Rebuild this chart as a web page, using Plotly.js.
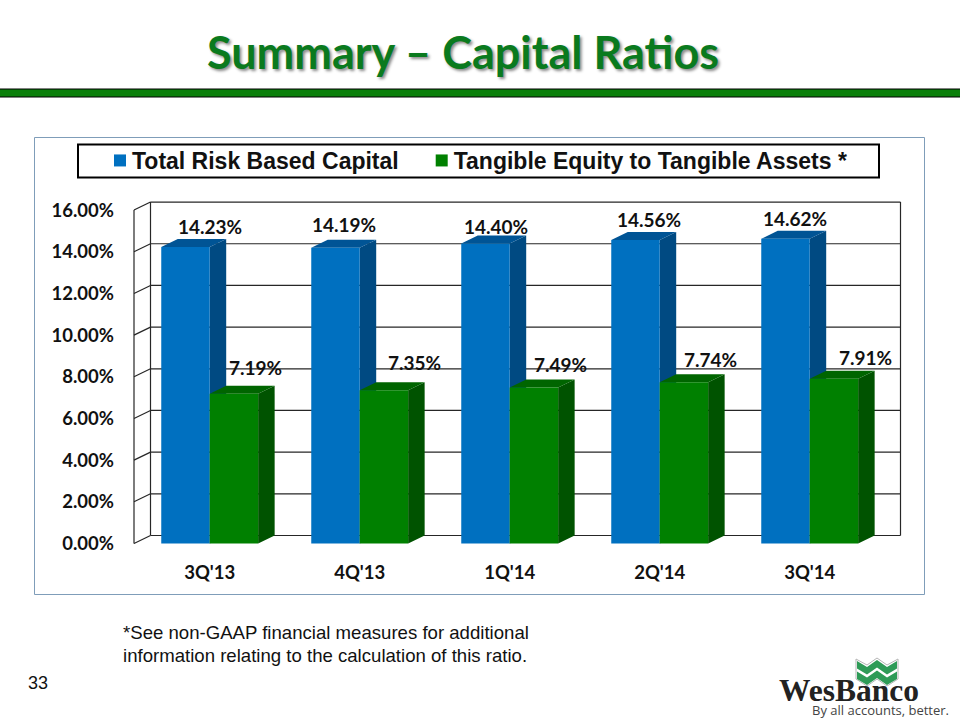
<!DOCTYPE html>
<html><head><meta charset="utf-8">
<script src="https://cdn.plot.ly/plotly-3.0.0.min.js"></script>
<style>html,body{margin:0;padding:0;background:#fff}</style></head>
<body><div id="chart" style="width:960px;height:720px"></div>
<script>
const categories = ["3Q'13","4Q'13","1Q'14","2Q'14","3Q'14"];
const totalRiskBased = [14.23,14.19,14.40,14.56,14.62];
const tangibleEquity = [7.19,7.35,7.49,7.74,7.91];
const yTicks = [0,2,4,6,8,10,12,14,16];
const blueLabelShiftX = [25,9,11,13.5,9.5];
const blueLabelShiftY = [20,22.8,17.4,21,20.8];
const greenLabelShiftX = [21.3,30.3,26.3,26.3,31.3];
const greenLabelShiftY = [25.7,28.3,23.4,23.2,20.7];

const L=130,R=905,T=198,B=548,W=775,H=350;
const pxX=p=>(p-L)/W, pxY=p=>(B-p)/H;
const barW=0.323, depthX=0.11, depthY=0.384;
const xMin=(L-209.7)/150, xMax=(R-209.7)/150, yMin=(543.5-B)/20.84, yMax=(543.5-T)/20.84;
const wallL=(134-209.7)/150, backR=(900.5-209.7)/150;
const BLUE='#0070C0',BLUE_S='#004A82',BLUE_T='#005495',GREEN='#008000',GREEN_S='#005300',GREEN_T='#006500';
const LINE='#262626';

const shapes=[];
const dataLine=(x0,y0,x1,y1)=>shapes.push({type:'line',xref:'x',yref:'y',x0,y0,x1,y1,layer:'below',line:{color:LINE,width:1.2}});
const poly=(pts,color)=>shapes.push({type:'path',xref:'x',yref:'y',layer:'below',line:{width:0},fillcolor:color,
  path:'M'+pts.map(p=>p[0]+','+p[1]).join('L')+'Z'});
yTicks.forEach(v=>{
  dataLine(wallL,v,wallL+depthX,v+depthY);
  dataLine(wallL+depthX,v+depthY,backR,v+depthY);
});
dataLine(wallL,0,wallL,16);
dataLine(wallL+depthX,depthY,wallL+depthX,16+depthY);
dataLine(backR,depthY,backR,16+depthY);
const faces=(vals,off,sideC,topC)=>vals.forEach((v,i)=>{
  const x0=i+off,x1=x0+barW;
  poly([[x1,0],[x1+depthX,depthY],[x1+depthX,v+depthY],[x1,v]],sideC);
  poly([[x0,v],[x1,v],[x1+depthX,v+depthY],[x0+depthX,v+depthY]],topC);
});
faces(totalRiskBased,-barW,BLUE_S,BLUE_T);
faces(tangibleEquity,0,GREEN_S,GREEN_T);

const paperShape=(o)=>shapes.push(Object.assign({xref:'paper',yref:'paper',layer:'below'},o));
const pxPath=pts=>'M'+pts.map(p=>pxX(p[0])+','+pxY(p[1])).join('L')+'Z';
paperShape({type:'rect',x0:pxX(34.5),x1:pxX(924.5),y0:pxY(137.5),y1:pxY(594.5),line:{color:'#7F9DB9',width:1},fillcolor:'rgba(0,0,0,0)'});
paperShape({type:'rect',x0:pxX(78),x1:pxX(879),y0:pxY(144.5),y1:pxY(177.5),line:{color:'#000',width:2},fillcolor:'#fff'});
paperShape({type:'rect',x0:pxX(-2),x1:pxX(962),y0:pxY(89),y1:pxY(97),line:{color:'#000',width:1},fillcolor:'#0A7F0A'});
const band=dy=>{
  const top=[[857,661],[867,667],[877,660],[887,667],[897,661]].map(p=>[p[0],p[1]+dy]);
  const bot=top.slice().reverse().map(p=>[p[0],p[1]+7.5]);
  return pxPath(top.concat(bot));
};
paperShape({type:'path',layer:'above',path:pxPath([[856,659],[867,665],[877,658],[887,665],[898,659],[898,679],[887,686],[877,679],[867,686],[856,679]]),line:{color:'#b5b5b5',width:1},fillcolor:'#fff'});
paperShape({type:'path',layer:'above',path:band(0),line:{width:0},fillcolor:'#2E9B57'});
paperShape({type:'path',layer:'above',path:band(10.5),line:{width:0},fillcolor:'#2E9B57'});

const fmt=v=>v.toFixed(2)+'%';
const lblFont={family:'Lato',size:19,color:'#111'};
const labels=(vals,off,sx,sy)=>vals.map((v,i)=>({xref:'x',yref:'y',x:i+off,y:v,text:'<b>'+fmt(v)+'</b>',showarrow:false,xshift:sx[i],yshift:sy[i],font:lblFont,xanchor:'center',yanchor:'middle'}));
const paperText=(px,py,text,font,xanchor)=>({xref:'paper',yref:'paper',x:pxX(px),y:pxY(py),text,showarrow:false,font,xanchor:xanchor||'left',yanchor:'middle',align:'left'});
const ARIAL='Liberation Sans';
const annotations=[
 ...labels(totalRiskBased,-barW/2,blueLabelShiftX,blueLabelShiftY),
 ...labels(tangibleEquity,barW/2,greenLabelShiftX,greenLabelShiftY),
 paperText(121,632,'*See non-GAAP financial measures for additional',{family:ARIAL,size:18.6,color:'#111'}),
 paperText(121,655,'information relating to the calculation of this ratio.',{family:ARIAL,size:18.6,color:'#111'}),
 paperText(26,683,'33',{family:ARIAL,size:18,color:'#111'}),
 paperText(777,690,'<b>WesBanco</b>',{family:'Liberation Serif',size:31.5,color:'#222'}),
 paperText(810,710,'By all accounts, better.',{family:'Open Sans',size:13,color:'#444'})
];

const traces=[
 {type:'bar',name:'Total Risk Based Capital',x:categories,y:totalRiskBased,width:barW,offset:-barW,marker:{color:BLUE,line:{width:0}},hoverinfo:'none'},
 {type:'bar',name:'Tangible Equity to Tangible Assets *',x:categories,y:tangibleEquity,width:barW,offset:0,marker:{color:GREEN,line:{width:0}},hoverinfo:'none'}
];
const layout={
 width:960,height:720,autosize:false,margin:{l:L,r:960-R,t:T,b:720-B,pad:0},
 paper_bgcolor:'#fff',plot_bgcolor:'rgba(0,0,0,0)',barmode:'overlay',
 title:{text:'<b>Summary – Capital Ratios</b>',x:463/960,xref:'container',xanchor:'center',y:1-53/720,yref:'container',yanchor:'middle',
   font:{family:'Lato',size:45,color:'#0A7A1E',shadow:'2px 2px 3px #8a8a8a'}},
 showlegend:true,
 legend:{orientation:'h',x:pxX(92),y:pxY(139),xanchor:'left',yanchor:'top',bgcolor:'rgba(0,0,0,0)',borderwidth:0,
   font:{family:ARIAL,size:23,color:'#111',weight:700},itemclick:false,itemdoubleclick:false,traceorder:'normal'},
 xaxis:{type:'category',range:[xMin,xMax],showgrid:false,zeroline:false,showline:false,ticks:'',ticklabelstandoff:11,
   tickfont:{family:'Lato',size:18.5,color:'#111',weight:700},fixedrange:true},
 yaxis:{range:[yMin,yMax],tickvals:yTicks,ticktext:yTicks.map(fmt),showgrid:false,zeroline:false,showline:false,ticks:'',ticklabelstandoff:15,
   tickfont:{family:'Lato',size:18.5,color:'#111',weight:700},fixedrange:true},
 shapes,annotations
};
Plotly.newPlot('chart',traces,layout,{staticPlot:true,displayModeBar:false}).then(()=>{
  document.querySelectorAll('.legendsymbols').forEach(g=>g.setAttribute('transform','translate(8,0)'));
  const items=document.querySelectorAll('.legend .traces');
  const t=items[1].getAttribute('transform').match(/translate\(([-\d.]+)[ ,]+([-\d.]+)\)/);
  if(t) items[1].setAttribute('transform','translate('+(parseFloat(t[1])+10)+','+t[2]+')');
  document.querySelectorAll('.legend .scrollbox').forEach(g=>g.removeAttribute('clip-path'));
  document.querySelectorAll('.legend').forEach(g=>g.removeAttribute('clip-path'));
  document.querySelectorAll('.legendclip rect').forEach(r=>r.setAttribute('width',parseFloat(r.getAttribute('width'))+30));
});
</script></body></html>
